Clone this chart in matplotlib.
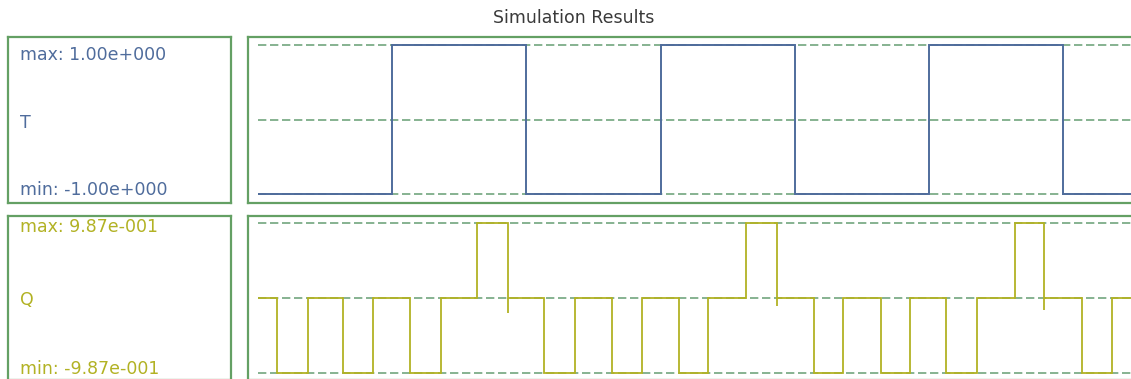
import matplotlib.pyplot as plt
import numpy as np

# signal T: square wave, step edges (time units) and levels
t_edges = [0.0, 1.0, 2.0, 3.0, 4.0, 5.0, 6.0, 6.8]
t_vals = [-1, 1, -1, 1, -1, 1, -1]
t_max, t_min = 1.00, -1.00

# signal Q: quantized output, step edges and levels
q_edges = [0.0, 0.14, 0.37, 0.63, 0.86, 1.13, 1.36, 1.63, 1.86, 2.13, 2.36, 2.64, 2.86,
           3.14, 3.35, 3.64, 3.87, 4.14, 4.36, 4.64, 4.86, 5.13, 5.36, 5.64, 5.86,
           6.14, 6.36, 6.8]
q_vals = [0, -0.987, 0, -0.987, 0, -0.987, 0, 0.987, 0, -0.987, 0, -0.987, 0,
          -0.987, 0, 0.987, 0, -0.987, 0, -0.987, 0, -0.987, 0, 0.987, 0, -0.987, 0]
q_max, q_min = 0.987, -0.987
# short dips after the positive pulses
glitch_t = [1.86, 3.87, 5.86]
glitch_lo = [-0.2, -0.1, -0.16]

W, H = 1131, 379
fig = plt.figure(figsize=(W / 100, H / 100), dpi=100)

frame_col = '#64a064'
grid_col = '#72a67e'
t_col = '#4f6c9c'
q_col = '#b2b224'


def px_axes(x0, y0, x1, y1):
    return fig.add_axes([x0 / W, 1 - y1 / H, (x1 - x0) / W, (y1 - y0) / H])


def style(ax):
    ax.set_xticks([])
    ax.set_yticks([])
    for s in ax.spines.values():
        s.set_color(frame_col)
        s.set_linewidth(1.6)


def fmt(v):
    # old-style three digit exponent, e.g. 1.00e+000
    m, e = f"{v:.2e}".split('e')
    return f"{m}e{e[0]}{int(e[1:]):03d}"


def label_box(ax, name, vmax, vmin, col, ys):
    style(ax)
    ax.set_xlim(0, 1)
    ax.set_ylim(0, 1)
    for txt, yv in zip([f"max: {fmt(vmax)}", name, f"min: {fmt(vmin)}"], ys):
        ax.text(0.054, yv, txt, color=col, fontsize=12.5, va='center', ha='left')


def guides(ax, hi, lo, x_end):
    for yv in (hi, 0, lo):
        ax.plot([0, x_end], [yv, yv], color=grid_col, lw=1.2, dashes=(5, 2.2), zorder=1)


u = 134.2  # pixels per time unit
x_end = t_edges[-1]

# --- T panel
lab1 = px_axes(8, 37, 231, 203)
label_box(lab1, 'T', t_max, t_min, t_col, [0.89, 0.48, 0.08])
ax1 = px_axes(248, 37, 1170, 203)
style(ax1)
ax1.set_xlim(-10 / u, (1170 - 258) / u)
ax1.set_ylim(-1.12, 1.107)
guides(ax1, t_max, t_min, x_end)
ax1.stairs(t_vals, t_edges, baseline=None, color=t_col, lw=1.4, zorder=2)

# --- Q panel
lab2 = px_axes(8, 216, 231, 380)
label_box(lab2, 'Q', q_max, q_min, q_col, [0.93, 0.49, 0.065])
ax2 = px_axes(248, 216, 1170, 380)
style(ax2)
ax2.set_xlim(-10 / u, (1170 - 258) / u)
ax2.set_ylim(-1.08, 1.08)
guides(ax2, q_max, q_min, x_end)
ax2.stairs(q_vals, q_edges, baseline=None, color=q_col, lw=1.3, zorder=2)
ax2.vlines(glitch_t, glitch_lo, 0, color=q_col, lw=1.3, zorder=2)

fig.text(574 / W, 1 - 18 / H, 'Simulation Results', ha='center', va='center',
         fontsize=12.5, color='#3a3a3a')

fig.savefig('out.png', dpi=100)
